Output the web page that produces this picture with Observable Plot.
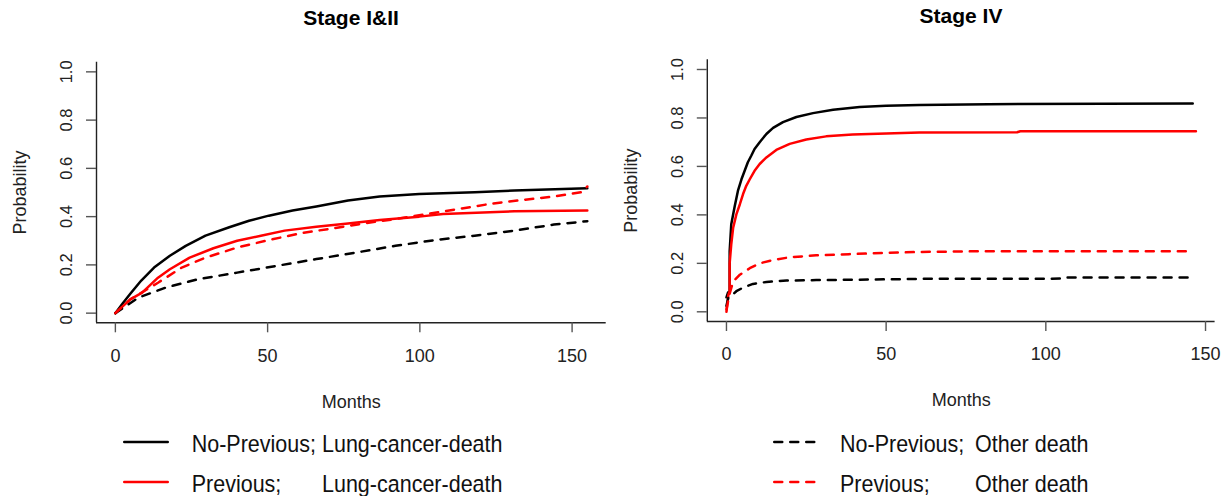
<!DOCTYPE html>
<html>
<head>
<meta charset="utf-8">
<script src="https://cdn.jsdelivr.net/npm/d3@7"></script>
<script src="https://cdn.jsdelivr.net/npm/@observablehq/plot@0.6"></script>
<style>
  html, body { margin: 0; padding: 0; background: #fff; }
  body { font-family: "Liberation Sans", Arial, sans-serif; color: #222; }
  #wrap { position: relative; width: 1225px; height: 496px; overflow: hidden; background: #fff; }
  .panel { position: absolute; top: 0; height: 496px; }
  .title { position: absolute; font-weight: bold; font-size: 21px; line-height: 21px; color: #000; white-space: nowrap; transform: translateX(-50%); }
  .plot { position: absolute; top: 40px; left: 0; }
  .leg { position: absolute; font-size: 21.5px; line-height: 22px; color: #111; white-space: pre; transform-origin: 0 50%; transform: scaleY(1.08); }
  .sample { position: absolute; overflow: visible; }
</style>
</head>
<body>
<div id="wrap"></div>
<script>
// ---------------- data ----------------
const panelTitles = ["Stage I&II", "Stage IV"];
const xLabel = "Months";
const yLabel = "Probability";
const xTicks = [0, 50, 100, 150];
const yTicks = [0, 0.2, 0.4, 0.6, 0.8, 1.0];

const legendNames = ["No-Previous;", "Previous;", "No-Previous;", "Previous;"];
const legendCauses = ["Lung-cancer-death", "Lung-cancer-death", "Other death", "Other death"];

// Stage I&II
const s12NoPrevLungMonths = [0, 2.5, 4.9, 8.5, 12.7, 17.9, 23.1, 29.6, 37.4, 43.9, 50.4, 58.2, 66, 76.4, 86.8, 99.8, 118, 131, 155];
const s12NoPrevLungProb   = [0, 0.042, 0.08, 0.135, 0.189, 0.238, 0.279, 0.321, 0.356, 0.383, 0.404, 0.425, 0.442, 0.467, 0.483, 0.494, 0.501, 0.508, 0.518];
const s12PrevLungMonths   = [0, 4.9, 8.8, 14, 17.9, 24.4, 32.2, 40, 47.8, 55.6, 66, 76.4, 86.8, 99.8, 107.6, 131, 155];
const s12PrevLungProb     = [0, 0.057, 0.085, 0.147, 0.182, 0.23, 0.269, 0.3, 0.321, 0.342, 0.358, 0.372, 0.386, 0.4, 0.411, 0.422, 0.425];
const s12NoPrevOtherMonths = [0, 7.5, 16.6, 27, 40, 53, 66, 79, 92, 105, 118, 131, 144, 155];
const s12NoPrevOtherProb   = [0, 0.064, 0.106, 0.14, 0.168, 0.196, 0.224, 0.251, 0.279, 0.303, 0.321, 0.342, 0.367, 0.381];
const s12PrevOtherMonths   = [0, 4.9, 14, 21.8, 29.6, 40, 50.4, 60.8, 71.2, 81.6, 92, 102.4, 112.8, 123.2, 133.6, 144, 153, 155];
const s12PrevOtherProb     = [0, 0.057, 0.126, 0.189, 0.23, 0.272, 0.303, 0.331, 0.351, 0.372, 0.39, 0.411, 0.432, 0.453, 0.469, 0.483, 0.501, 0.525];

// Stage IV
const s4NoPrevLungMonths = [0, 0.5, 1.0, 1.0, 1.5, 2.6, 3.6, 4.7, 5.7, 6.7, 7.8, 8.8, 10.4, 12.5, 14.6, 17.7, 21.9, 27.1, 33.4, 41.7, 50, 60.4, 82, 146];
const s4NoPrevLungProb   = [0.06, 0.08, 0.085, 0.25, 0.361, 0.437, 0.5, 0.547, 0.582, 0.617, 0.645, 0.672, 0.7, 0.734, 0.759, 0.783, 0.804, 0.82, 0.834, 0.845, 0.85, 0.853, 0.857, 0.86];
const s4PrevLungMonths   = [0, 0.6, 1.0, 1.0, 1.5, 2.1, 3.1, 4.2, 5.2, 6.2, 7.3, 8.8, 10.4, 12.5, 15.6, 19.8, 25, 31.2, 39.5, 50, 60.4, 91, 92, 147];
const s4PrevLungProb     = [0, 0.07, 0.085, 0.2, 0.278, 0.347, 0.402, 0.444, 0.486, 0.52, 0.547, 0.582, 0.61, 0.637, 0.668, 0.693, 0.711, 0.724, 0.732, 0.736, 0.74, 0.741, 0.745, 0.745];
const s4NoPrevOtherMonths = [0, 0.6, 1.5, 3.1, 5.2, 8.3, 12.5, 18.8, 28.1, 38.5, 50, 60.4, 105, 106, 146];
const s4NoPrevOtherProb   = [0.025, 0.06, 0.066, 0.085, 0.1, 0.115, 0.123, 0.129, 0.131, 0.132, 0.134, 0.136, 0.137, 0.142, 0.142];
const s4PrevOtherMonths   = [0, 0.9, 2.1, 4.2, 7.3, 10.4, 14.6, 19.8, 28.1, 38.5, 50, 60.4, 80, 145.2];
const s4PrevOtherProb     = [0.01, 0.07, 0.125, 0.153, 0.18, 0.2, 0.214, 0.225, 0.233, 0.238, 0.243, 0.247, 0.25, 0.25];

const seriesColors = ["black", "red", "black", "red"];
const seriesDash = [null, null, "8,8", "8,8"];

// ---------------- build ----------------
const rows = (ms, ps) => ms.map((m, i) => ({month: m, prob: ps[i]}));
const panels = [
  {
    left: 0, width: 612, marginLeft: 96, marginRight: 6.3, marginTop: 21.7, marginBottom: 97.7,
    xDomain: [-6.2, 161.2], titleX: 351, titleTop: 7,
    series: [rows(s12NoPrevLungMonths, s12NoPrevLungProb), rows(s12PrevLungMonths, s12PrevLungProb),
             rows(s12NoPrevOtherMonths, s12NoPrevOtherProb), rows(s12PrevOtherMonths, s12PrevOtherProb)]
  },
  {
    left: 612, width: 613, marginLeft: 94.8, marginRight: 10.4, marginTop: 19.3, marginBottom: 99,
    xDomain: [-6.0, 153.0], titleX: 349, titleTop: 5,
    series: [rows(s4NoPrevLungMonths, s4NoPrevLungProb), rows(s4PrevLungMonths, s4PrevLungProb),
             rows(s4NoPrevOtherMonths, s4NoPrevOtherProb), rows(s4PrevOtherMonths, s4PrevOtherProb)]
  }
];
const yDomain = [-0.04, 1.04];
const plotHeight = 380;

const wrap = document.getElementById("wrap");

panels.forEach((p, k) => {
  const div = document.createElement("div");
  div.className = "panel";
  div.style.left = p.left + "px";
  div.style.width = p.width + "px";
  wrap.appendChild(div);

  const t = document.createElement("div");
  t.className = "title";
  t.textContent = panelTitles[k];
  t.style.left = p.titleX + "px";
  t.style.top = p.titleTop + "px";
  div.appendChild(t);

  const chart = Plot.plot({
    width: p.width,
    height: plotHeight,
    marginLeft: p.marginLeft,
    marginRight: p.marginRight,
    marginTop: p.marginTop,
    marginBottom: p.marginBottom,
    style: {fontFamily: "'Liberation Sans', Arial, sans-serif", background: "transparent", color: "#222", overflow: "visible"},
    x: {domain: p.xDomain},
    y: {domain: yDomain},
    marks: [
      Plot.ruleX([p.xDomain[0]], {stroke: "#222", strokeWidth: 1.4}),
      Plot.ruleY([yDomain[0]], {stroke: "#222", strokeWidth: 1.4}),
      Plot.axisX({ticks: xTicks, tickSize: 10, tickPadding: 16, fontSize: 18, stroke: "#555", strokeWidth: 1.4, label: null}),
      Plot.axisX({ticks: [], tickSize: 0, label: xLabel, labelAnchor: "center", labelOffset: 84.7, labelArrow: "none", fontSize: 18}),
      Plot.axisY({ticks: yTicks, tickFormat: d3.format(".1f"), tickSize: 10, tickRotate: -90, tickPadding: 14.3, fontSize: 16.5, stroke: "#555", strokeWidth: 1.4, label: null}),
      Plot.axisY({ticks: [], tickSize: 0, label: yLabel, labelAnchor: "center", labelOffset: 82.8, labelArrow: "none", fontSize: 18}),
      ...p.series.map((data, i) => Plot.line(data, {
        x: "month", y: "prob",
        stroke: seriesColors[i], strokeWidth: 2.5,
        strokeDasharray: seriesDash[i] || undefined,
        strokeLinecap: "round", strokeLinejoin: "round"
      }))
    ]
  });
  chart.classList.add("plot");
  div.appendChild(chart);
});

// ---------------- legend ----------------
const legendLayout = [
  {sx: 123.3, sw: 46, nameX: 191.7, causeX: 322},
  {sx: 773.3, sw: 46, nameX: 840, causeX: 975}
];
const rowLineY = [441.7, 482.3];
const rowTextTop = [433.4, 473.1];

for (let i = 0; i < 4; i++) {
  const col = legendLayout[i < 2 ? 0 : 1];
  const r = i % 2;
  const svg = d3.select(wrap).append("svg")
    .attr("class", "sample")
    .attr("width", col.sw).attr("height", 6)
    .style("left", col.sx + "px").style("top", (rowLineY[r] - 3) + "px");
  svg.append("line")
    .attr("x1", 1.25).attr("x2", col.sw - 1.25).attr("y1", 3).attr("y2", 3)
    .attr("stroke", seriesColors[i]).attr("stroke-width", 2.5)
    .attr("stroke-linecap", "round")
    .attr("stroke-dasharray", seriesDash[i]);
  const n = document.createElement("div");
  n.className = "leg";
  n.textContent = legendNames[i];
  n.style.left = col.nameX + "px";
  n.style.top = rowTextTop[r] + "px";
  wrap.appendChild(n);
  const c = document.createElement("div");
  c.className = "leg";
  c.textContent = legendCauses[i];
  c.style.left = col.causeX + "px";
  c.style.top = rowTextTop[r] + "px";
  wrap.appendChild(c);
}
</script>
</body>
</html>
